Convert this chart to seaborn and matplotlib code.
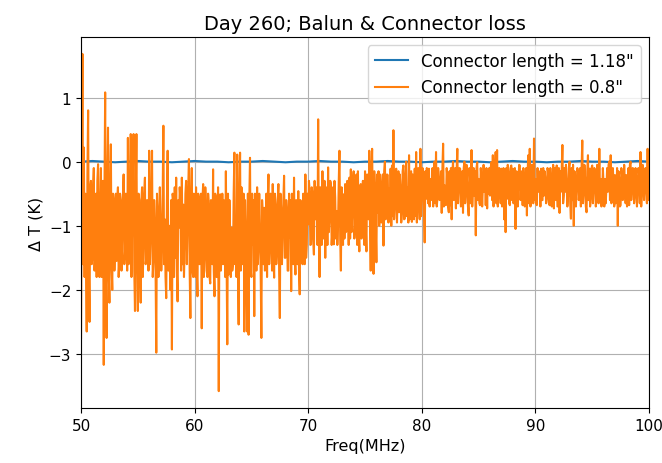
import numpy as np
import matplotlib
matplotlib.use("Agg")
import matplotlib.pyplot as plt
import seaborn as sns

# ---- data ----
freq_start, freq_stop = 50.0, 100.0

# Connector length = 0.8"  (orange): samples on a 0.125 MHz grid
dT_08_a = [  # 50 - 60 MHz
    -2.75, 1.68, 0.22, -0.5, -2.65, 0.8, -2.5, -0.3,
    -1.5, -0.1, -1.3, -1.8, -0.04, -1.8, -0.1, -1.5,
    -3.17, 1.08, -2.75, 0.53, -2.2, 0.27, -2.0, -0.6,
    -1.2, -1.55, -0.4, -1.5, -0.6, -1.1, -0.2, -1.4,
    -0.9, 0.37, -1.3, 0.43, -1.0, 0.43, -2.33, 0.43,
    -2.33, -0.6, -2.2, -0.4, -1.3, -0.25, -1.5, -0.9,
    0.17, -1.2, 0.17, -1.55, -0.9, -2.98, -0.77, -1.3,
    -1.0, -1.4, 0.56, -0.9, -2.13, 0.17, -1.0, -2.0,
    -2.93, -0.6, -0.4, -0.25, -2.18, -1.03, -0.6, -0.25,
    -0.67, -1.3, -0.3, -1.0, 0.04, -2.44, -0.1, -1.8,
]
dT_08_b = [  # 60 - 70 MHz
    -1.0, -0.4, -2.1, -0.56, -1.4, -2.6, -0.35, -1.5,
    -0.7, -1.8, -0.67, -1.9, -0.9, -0.12, -2.1, -0.56,
    -1.2, -3.58, -0.51, -1.3, -1.6, -0.8, -0.15, -2.85,
    -1.76, -1.08, -1.03, -1.6, 0.14, -0.9, 0.11, -2.54,
    0.14, -0.4, -1.4, -2.65, -1.0, -2.65, -2.7, 0.06,
    -1.8, -1.29, -2.41, -1.0, -0.4, -1.3, -1.03, -2.75,
    -0.82, -0.72, -1.3, -1.8, -0.2, -1.29, -0.87, -0.35,
    -1.81, -0.67, -1.4, -0.35, -2.44, -0.77, -1.1, -0.22,
    -1.5, -0.77, -1.7, -1.19, -2.02, -0.9, -0.25, -1.76,
    -0.93, -0.46, -2.07, -0.77, -1.6, -1.0, -0.2, -1.29,
]
dT_08_c = [  # 70 - 80 MHz
    -0.98, -0.46, -1.29, -0.51, -1.45, -0.9, -0.56, 0.66,
    -1.8, -0.77, -0.15, -1.08, -1.5, -0.6, -0.09, -0.88,
    -0.35, -1.08, -1.29, -0.56, -0.77, -1.0, 0.17, -1.7,
    -0.77, -0.51, -0.35, -1.08, -0.6, -0.25, -0.12, -0.8,
    -0.15, -0.98, -0.2, -0.15, -1.4, -0.35, -0.8, -0.67,
    -0.15, -1.4, -0.35, 0.17, -1.7, 0.2, -1.75, -0.42,
    -1.57, -0.8, -1.0, -0.37, -0.94, -1.31, 0.0, -0.6,
    -0.21, -0.42, -0.11, -0.06, 0.49, -0.68, -0.11, -0.5,
    -0.79, -0.42, -0.79, -0.06, -0.89, 0.0, -0.4, 0.1,
    -0.53, -0.94, -0.27, -0.11, 0.15, -0.6, -0.37, 0.2,
]
dT_08_d = [  # 80 - 90 MHz
    -0.53, -0.32, -1.26, -0.58, -0.3, -0.11, -0.27, -0.42,
    -0.7, 0.0, 0.15, -0.58, -0.27, -0.47, -0.8, 0.28,
    -0.37, -0.68, -0.27, -0.79, -0.68, -0.9, 0.0, -0.53,
    -0.73, 0.2, -0.42, -0.11, -0.68, -0.8, 0.0, -0.42,
    -0.42, -0.84, -0.3, 0.18, -0.42, -0.53, -1.15, -0.01,
    -0.27, -0.68, -0.27, -0.37, -0.47, -0.68, -0.73, -0.5,
    -0.53, -0.01, 0.1, -0.4, 0.15, 0.18, -0.42, -0.27,
    -0.11, -0.58, -0.9, -1.1, -0.58, -0.16, -0.68, -0.06,
    -0.11, -0.6, -1.05, -0.16, -0.37, -0.06, -0.42, -0.68,
    -0.27, -0.5, -0.84, 0.1, 0.2, -0.42, -0.3, 0.36,
]
dT_08_e = [  # 90 - 100 MHz
    -0.27, -0.68, -0.47, -0.32, -0.11, -0.6, -0.53, -0.27,
    -0.58, -0.16, -0.68, -0.3, -0.53, -0.73, -0.27, -0.06,
    -0.42, -0.8, -0.47, 0.26, -0.53, -0.47, -0.37, -0.53,
    0.0, -0.89, -0.6, -1.0, -0.27, -0.42, -0.16, -0.47,
    -0.7, 0.33, -0.47, -0.27, -0.79, 0.1, -0.11, -0.58,
    -0.06, -0.42, -0.16, -0.6, -0.3, 0.2, -0.27, -0.53,
    -0.37, -0.27, -0.42, -0.47, 0.0, 0.1, -0.58, -0.32,
    -0.21, -0.6, -1.0, -0.27, -0.68, -0.21, -0.53, -0.37,
    -0.21, -0.58, -0.68, 0.0, -0.42, -0.11, -0.53, -0.27,
    -0.42, -0.2, 0.15, -0.47, -0.27, -0.4, -0.35, 0.2,
    -0.4,
]

# in-between samples (half-step points) estimated from the dense orange band
dT_08_mid_a = [
    -0.3, -1.6, -1.8, -1.5, -0.2, -1.7, -0.4, -1.6,
    -0.4, -1.7, -0.5, -0.3, -1.6, -0.6, -1.8, -0.3,
    -0.5, -1.8, -0.3, -1.7, -0.4, -1.6, -0.5, -1.7,
    -0.5, -0.6, -1.8, -0.5, -1.7, -0.6, -1.6, -0.5,
    -1.7, -1.6, -0.5, -1.8, -0.4, -1.7, -0.6, -1.5,
    -0.5, -1.7, -0.6, -1.8, -0.5, -1.6, -0.6, -1.7,
    -1.6, -0.5, -1.8, -0.6, -1.7, -0.5, -1.8, -0.4,
    -1.7, -0.5, -1.6, -1.8, -0.6, -1.7, -1.6, -0.6,
    -0.5, -1.8, -1.5, -1.7, -0.6, -0.4, -1.7, -1.6,
    -1.8, -0.5, -1.6, -0.4, -1.7, -0.6, -1.7, -0.5,
]
dT_08_mid_b = [
    -1.8, -1.7, -0.5, -1.6, -0.5, -0.6, -1.8, -0.4,
    -1.7, -0.5, -1.8, -0.6, -1.6, -1.7, -0.5, -1.8,
    -0.4, -0.6, -1.7, -0.5, -0.6, -1.8, -1.6, -0.5,
    -0.6, -1.8, -1.7, -0.5, -1.6, -1.8, -1.7, -0.6,
    -1.7, -1.6, -0.5, -0.6, -1.8, -0.5, -0.6, -1.7,
    -0.5, -0.6, -0.5, -1.7, -1.6, -0.5, -1.7, -0.6,
    -1.6, -1.7, -0.5, -0.6, -1.6, -0.5, -1.7, -1.5,
    -0.5, -1.6, -0.6, -1.7, -0.5, -1.6, -0.6, -1.5,
    -0.6, -1.7, -0.5, -0.6, -0.5, -1.6, -1.5, -0.6,
    -1.6, -1.7, -0.6, -1.5, -0.5, -1.6, -1.5, -0.5,
]
dT_08_mid_c = [
    -0.3, -1.3, -0.4, -1.2, -0.3, -0.4, -1.3, -1.2,
    -0.4, -1.3, -1.2, -0.3, -0.4, -1.3, -1.1, -0.3,
    -1.3, -0.4, -0.3, -1.2, -1.3, -0.3, -1.2, -0.4,
    -1.3, -1.2, -1.1, -0.3, -1.3, -1.2, -1.1, -0.3,
    -1.2, -0.3, -1.3, -1.1, -0.4, -1.2, -0.3, -1.3,
    -1.0, -0.2, -0.9, -1.0, -0.2, -0.9, -0.15, -1.0,
    -0.2, -0.15, -0.2, -0.95, -0.2, -0.15, -0.9, -0.2,
    -0.95, -0.9, -1.0, -0.85, -0.9, -0.15, -0.95, -0.15,
    -0.2, -0.95, -0.15, -0.9, -0.2, -0.85, -0.95, -0.9,
    -0.15, -0.2, -0.9, -0.85, -0.95, -0.1, -0.9, -0.85,
]
dT_08_mid_d = [
    -0.1, -0.7, -0.15, -0.1, -0.65, -0.7, -0.6, -0.1,
    -0.15, -0.65, -0.7, -0.1, -0.6, -0.15, -0.1, -0.7,
    -0.65, -0.1, -0.7, -0.15, -0.1, -0.15, -0.6, -0.1,
    -0.15, -0.65, -0.1, -0.7, -0.15, -0.1, -0.65, -0.05,
    -0.7, -0.1, -0.65, -0.7, -0.1, -0.15, -0.1, -0.6,
    -0.65, -0.1, -0.7, -0.05, -0.15, -0.1, -0.15, -0.1,
    -0.1, -0.6, -0.7, -0.1, -0.65, -0.7, -0.1, -0.65,
    -0.7, -0.1, -0.15, -0.1, -0.05, -0.65, -0.1, -0.6,
    -0.65, -0.1, -0.15, -0.7, -0.05, -0.6, -0.15, -0.1,
    -0.7, -0.1, -0.15, -0.65, -0.7, -0.05, -0.65, -0.6,
]
dT_08_mid_e = [
    -0.65, -0.1, -0.15, -0.7, -0.6, -0.1, -0.15, -0.65,
    -0.1, -0.65, -0.1, -0.7, -0.05, -0.1, -0.6, -0.7,
    -0.1, -0.15, -0.1, -0.65, -0.1, -0.05, -0.7, -0.1,
    -0.65, -0.1, -0.05, -0.15, -0.7, -0.1, -0.6, -0.1,
    -0.1, -0.65, -0.05, -0.7, -0.15, -0.6, -0.7, -0.1,
    -0.65, -0.1, -0.7, -0.05, -0.65, -0.6, -0.7, -0.1,
    -0.7, -0.65, -0.1, -0.05, -0.6, -0.65, -0.1, -0.7,
    -0.65, -0.1, -0.15, -0.7, -0.1, -0.6, -0.05, -0.65,
    -0.7, -0.1, -0.05, -0.6, -0.1, -0.65, -0.1, -0.7,
    -0.1, -0.65, -0.7, -0.05, -0.6, -0.1, -0.65, -0.6,
]

# Connector length = 1.18"  (blue), sampled every 1 MHz
dT_118 = [
    0.0, 0.01, 0.0, -0.01, 0.0, 0.01, 0.0, 0.0, -0.01, 0.0,
    0.01, 0.0, 0.0, -0.01, 0.0, 0.0, 0.01, 0.0, -0.01, 0.0,
    0.0, 0.01, 0.0, 0.0, -0.01, 0.0, 0.0, 0.01, 0.0, 0.0,
    -0.01, 0.0, 0.0, 0.01, 0.0, 0.0, -0.01, 0.0, 0.01, 0.0,
    0.0, -0.01, 0.0, 0.0, 0.01, 0.0, 0.0, -0.01, 0.0, 0.01,
    0.0,
]

labels = ['Connector length = 1.18"', 'Connector length = 0.8"']
title = "Day 260; Balun & Connector loss"
xlabel = "Freq(MHz)"
ylabel = "Δ T (K)"
xticks = [50, 60, 70, 80, 90, 100]
yticks = [-3, -2, -1, 0, 1]

# ---- build (interleave grid samples with half-step samples) ----
main = dT_08_a + dT_08_b + dT_08_c + dT_08_d + dT_08_e
mid = dT_08_mid_a + dT_08_mid_b + dT_08_mid_c + dT_08_mid_d + dT_08_mid_e
dT_08 = np.empty(len(main) + len(mid))
dT_08[0::2] = main
dT_08[1::2] = mid
freq_08 = np.linspace(freq_start, freq_stop, len(dT_08))
freq_118 = np.linspace(freq_start, freq_stop, len(dT_118))

fig, ax = plt.subplots(figsize=(6.62, 4.64), dpi=100)
fig.subplots_adjust(left=0.1224, right=0.9804, top=0.918, bottom=0.1185)

sns.lineplot(x=freq_118, y=dT_118, ax=ax, color="#1f77b4", linewidth=1.5,
             label=labels[0], estimator=None, sort=False)
sns.lineplot(x=freq_08, y=dT_08, ax=ax, color="#ff7f0e", linewidth=1.5,
             label=labels[1], estimator=None, sort=False)

ax.set_xlim(freq_start, freq_stop)
ax.set_xticks(xticks)
ax.set_yticks(yticks)
ax.grid(True, color="#b0b0b0", linewidth=0.8)
ax.set_title(title, fontsize=14)
ax.set_xlabel(xlabel, fontsize=11.5)
ax.set_ylabel(ylabel, fontsize=11.5)
ax.tick_params(labelsize=11)
ax.legend(loc="upper right", fontsize=12, framealpha=0.8)

fig.savefig("out.png", dpi=100)
